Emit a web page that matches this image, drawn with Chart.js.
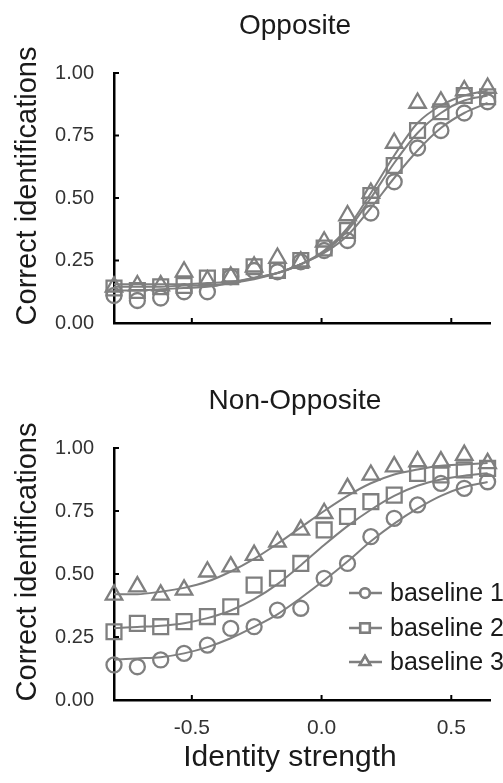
<!DOCTYPE html>
<html>
<head>
<meta charset="utf-8">
<script src="https://cdn.jsdelivr.net/npm/chart.js@4.4.1/dist/chart.umd.min.js"></script>
<style>
  html, body { margin: 0; padding: 0; background: #fff; }
  #wrap { position: relative; width: 503px; height: 783px; }
  canvas { position: absolute; left: 0; }
</style>
</head>
<body>
<div id="wrap">
  <canvas id="top" width="503" height="360" style="top:0"></canvas>
  <canvas id="bot" width="503" height="423" style="top:360px"></canvas>
</div>
<script>
// identity strength levels
const strength = [-0.8, -0.71, -0.62, -0.53, -0.44, -0.35, -0.26, -0.17, -0.08, 0.01, 0.10, 0.19, 0.28, 0.37, 0.46, 0.55, 0.64];
const xTicks = [-0.5, 0.0, 0.5];
const yTicks = [0, 0.25, 0.5, 0.75, 1.0];
const seriesNames = ['baseline 1', 'baseline 2', 'baseline 3'];

// Opposite: observed
const oppB1 = [0.11, 0.09, 0.10, 0.125, 0.125, 0.185, 0.21, 0.205, 0.245, 0.29, 0.33, 0.44, 0.565, 0.70, 0.77, 0.84, 0.885];
const oppB2 = [0.14, 0.13, 0.145, 0.15, 0.18, 0.185, 0.225, 0.21, 0.25, 0.30, 0.37, 0.51, 0.63, 0.77, 0.845, 0.91, 0.905];
const oppB3 = [0.145, 0.15, 0.15, 0.205, 0.17, 0.185, 0.225, 0.26, 0.245, 0.325, 0.43, 0.52, 0.72, 0.88, 0.885, 0.93, 0.94];
// Opposite: fitted curves
const oppFit1 = [0.13, 0.13, 0.135, 0.14, 0.145, 0.16, 0.18, 0.20, 0.235, 0.28, 0.35, 0.46, 0.58, 0.69, 0.78, 0.84, 0.88];
const oppFit2 = [0.145, 0.145, 0.145, 0.15, 0.15, 0.16, 0.175, 0.20, 0.235, 0.285, 0.37, 0.50, 0.64, 0.76, 0.84, 0.89, 0.91];
const oppFit3 = [0.155, 0.155, 0.155, 0.155, 0.16, 0.165, 0.18, 0.20, 0.235, 0.29, 0.38, 0.52, 0.67, 0.80, 0.87, 0.91, 0.93];

// Non-Opposite: observed
const nonB1 = [0.139, 0.132, 0.159, 0.185, 0.218, 0.284, 0.291, 0.357, 0.364, 0.483, 0.542, 0.648, 0.721, 0.774, 0.86, 0.84, 0.866];
const nonB2 = [0.271, 0.304, 0.291, 0.311, 0.331, 0.370, 0.456, 0.483, 0.542, 0.675, 0.728, 0.787, 0.813, 0.899, 0.893, 0.913, 0.919];
const nonB3 = [0.417, 0.45, 0.417, 0.437, 0.509, 0.529, 0.575, 0.628, 0.675, 0.741, 0.84, 0.893, 0.926, 0.946, 0.946, 0.972, 0.939];
// Non-Opposite: fitted curves
const nonFit1 = [0.16, 0.165, 0.17, 0.185, 0.21, 0.245, 0.29, 0.34, 0.405, 0.475, 0.55, 0.63, 0.70, 0.76, 0.81, 0.845, 0.865];
const nonFit2 = [0.285, 0.29, 0.295, 0.305, 0.325, 0.355, 0.40, 0.46, 0.535, 0.615, 0.69, 0.755, 0.81, 0.85, 0.875, 0.89, 0.90];
const nonFit3 = [0.42, 0.42, 0.43, 0.445, 0.47, 0.51, 0.56, 0.62, 0.685, 0.75, 0.81, 0.86, 0.895, 0.915, 0.93, 0.935, 0.94];

const GRAY = '#7f7f7f';
const FONT = '"Liberation Sans", Arial, sans-serif';
const markers = [
  { style: 'circle', r: 7.5 },
  { style: 'rect', r: 10.5 },
  { style: 'triangle', r: 9.5 }
];

const pts = arr => strength.map((x, i) => ({ x: x, y: arr[i] }));

function buildDatasets(obs, fits) {
  const ds = [];
  fits.forEach(f => ds.push({
    data: pts(f), showLine: true, borderColor: GRAY, borderWidth: 2,
    pointRadius: 0, cubicInterpolationMode: 'monotone', clip: false
  }));
  obs.forEach((o, k) => ds.push({
    label: seriesNames[k], data: pts(o), showLine: false,
    pointStyle: markers[k].style, pointRadius: markers[k].r,
    pointBorderColor: GRAY, pointBackgroundColor: 'rgba(0,0,0,0)',
    pointBorderWidth: 2.3, clip: false
  }));
  return ds;
}

// inward tick marks + panel texts
const decor = {
  id: 'decor',
  afterDraw(chart, args, o) {
    const c = chart.ctx, a = chart.chartArea, sx = chart.scales.x, sy = chart.scales.y;
    c.save();
    c.strokeStyle = '#000';
    c.lineWidth = 2;
    yTicks.forEach(v => {
      const y = sy.getPixelForValue(v);
      c.beginPath(); c.moveTo(a.left, y); c.lineTo(a.left + 5, y); c.stroke();
    });
    xTicks.forEach(v => {
      const x = sx.getPixelForValue(v);
      c.beginPath(); c.moveTo(x, a.bottom); c.lineTo(x, a.bottom - 5); c.stroke();
    });
    c.fillStyle = '#1a1a1a';
    c.textAlign = 'center';
    c.textBaseline = 'middle';
    c.font = '28px ' + FONT;
    c.fillText(o.title, 295, a.top - 47);
    c.save();
    c.translate(28, (a.top + a.bottom) / 2 - 12);
    c.rotate(-Math.PI / 2);
    c.font = '29px ' + FONT;
    c.fillText('Correct identifications', 0, 0);
    c.restore();
    if (o.xTitle) {
      c.font = '30px ' + FONT;
      c.fillText(o.xTitle, 290, a.bottom + 58);
    }
    if (o.legend) {
      const rows = [233, 268, 302];
      chart.data.datasets.filter(d => d.label).forEach((d, k) => {
        const y = rows[k];
        c.strokeStyle = GRAY; c.lineWidth = 2.5;
        c.beginPath(); c.moveTo(349, y); c.lineTo(382, y); c.stroke();
        c.fillStyle = '#fff';
        Chart.helpers.drawPoint(c, {
          pointStyle: d.pointStyle, radius: d.pointRadius * 0.65,
          borderWidth: 2, rotation: 0
        }, 365, y);
        c.lineWidth = 2;
        c.stroke();
        c.fillStyle = '#1a1a1a';
        c.textAlign = 'left';
        c.font = '25px ' + FONT;
        c.fillText(d.label, 390, y + 1);
      });
    }
    c.restore();
  }
};

function makeChart(id, obs, fits, padTop, xHeight, showX, extra) {
  return new Chart(document.getElementById(id), {
    type: 'scatter',
    data: { datasets: buildDatasets(obs, fits) },
    plugins: [decor],
    options: {
      responsive: false,
      animation: false,
      layout: { padding: { top: padTop, left: 0, right: 8, bottom: 0 } },
      plugins: {
        legend: { display: false },
        tooltip: { enabled: false },
        decor: extra
      },
      scales: {
        x: {
          type: 'linear', min: -0.8, max: 0.65,
          afterBuildTicks: s => { s.ticks = xTicks.map(v => ({ value: v })); },
          afterFit: s => { s.height = xHeight; },
          grid: { display: false, drawTicks: false },
          border: { display: true, color: '#000', width: 2.5 },
          ticks: {
            display: showX, padding: 16, color: '#333',
            font: { family: FONT, size: 21 },
            callback: v => v.toFixed(1)
          }
        },
        y: {
          min: 0, max: 1,
          afterBuildTicks: s => { s.ticks = yTicks.map(v => ({ value: v })); },
          afterFit: s => { s.width = 114; },
          grid: { display: false, drawTicks: false },
          border: { display: true, color: '#000', width: 2.5 },
          ticks: {
            padding: 20, color: '#333',
            font: { family: FONT, size: 20 },
            callback: v => v.toFixed(2)
          }
        }
      }
    }
  });
}

makeChart('top', [oppB1, oppB2, oppB3], [oppFit1, oppFit2, oppFit3], 73, 37, false,
  { title: 'Opposite' });
makeChart('bot', [nonB1, nonB2, nonB3], [nonFit1, nonFit2, nonFit3], 88, 83, true,
  { title: 'Non-Opposite', xTitle: 'Identity strength', legend: true });
</script>
</body>
</html>
